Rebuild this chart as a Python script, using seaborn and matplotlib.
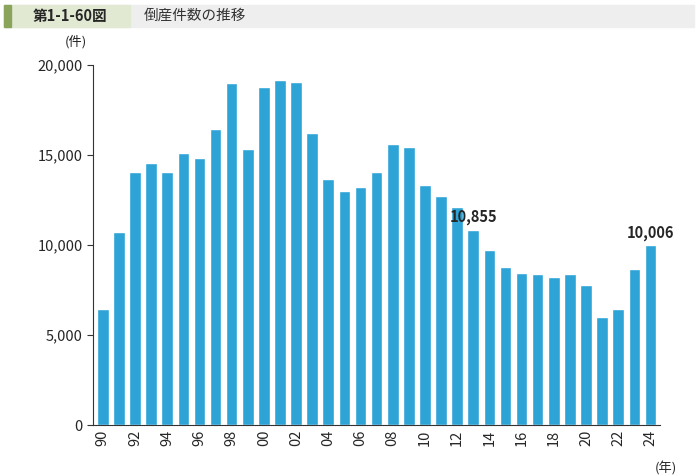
import numpy as np
import pandas as pd
import matplotlib
matplotlib.use("Agg")
import matplotlib.pyplot as plt
import seaborn as sns
from matplotlib.patches import Rectangle

sns.set_style("white")
plt.rcParams['font.family'] = ['Noto Sans CJK JP', 'DejaVu Sans']

years = list(range(1990, 2025))
counts = [6468, 10723, 14069, 14564, 14061, 15108, 14834, 16464, 18988, 15352,
          18769, 19164, 19087, 16255, 13679, 12998, 13245, 14091, 15646, 15480,
          13321, 12734, 12124, 10855, 9731, 8812, 8446, 8405, 8235, 8383,
          7773, 6030, 6428, 8690, 10006]
labels = [f"{y % 100:02d}" for y in years]
df = pd.DataFrame({"year": labels, "count": counts})

fig = plt.figure(figsize=(7.0, 4.76), dpi=100)
ax = fig.add_axes([0.133, 0.107, 0.81, 0.756])
sns.barplot(data=df, x="year", y="count", color="#2ea3d6", saturation=1, width=0.72, ax=ax)

ax.set_ylim(0, 20000)
ax.set_xlim(-0.6, len(years) - 0.4)
ax.set_yticks([0, 5000, 10000, 15000, 20000])
ax.set_yticklabels(["0", "5,000", "10,000", "15,000", "20,000"], fontsize=10.5)
ax.set_xticks(range(0, len(years), 2))
ax.set_xticklabels(labels[::2], rotation=90, fontsize=10.5)
ax.set_xlabel("")
ax.set_ylabel("")
for s in ["top", "right"]:
    ax.spines[s].set_visible(False)
for s in ["left", "bottom"]:
    ax.spines[s].set_color("#333333")
    ax.spines[s].set_linewidth(0.8)
ax.tick_params(axis="y", length=4, color="#333333", left=True)
ax.tick_params(axis="x", length=0)

for yr in (2013, 2024):
    i = years.index(yr)
    ax.text(i, counts[i] + 250, f"{counts[i]:,}", ha="center", va="bottom",
            fontsize=10.5, fontweight="bold")

ax.text(-0.03, 1.045, "(件)", transform=ax.transAxes, fontsize=9.5, ha="center", va="bottom")
ax.text(1.01, -0.1, "(年)", transform=ax.transAxes, fontsize=9.5, ha="center", va="top")

# header
fig.patches.append(Rectangle((0.006, 0.943), 0.985, 0.047, transform=fig.transFigure,
                             color="#eeeeee", zorder=0))
fig.patches.append(Rectangle((0.006, 0.943), 0.18, 0.047, transform=fig.transFigure,
                             color="#e2e9d3", zorder=1))
fig.patches.append(Rectangle((0.006, 0.943), 0.01, 0.047, transform=fig.transFigure,
                             color="#8aa55b", zorder=2))
fig.text(0.1, 0.966, "第1-1-60図", fontsize=10.5, ha="center", va="center", fontweight="bold")
fig.text(0.205, 0.966, "倒産件数の推移", fontsize=10.5, ha="left", va="center", color="#333333")

fig.savefig("out.png", dpi=100)
